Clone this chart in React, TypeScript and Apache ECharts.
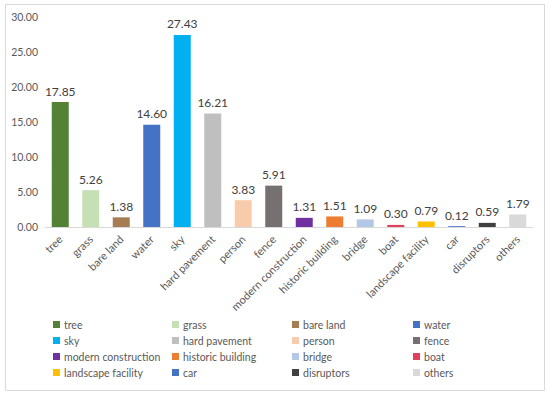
import React, { useEffect, useRef } from "react";
import * as echarts from "echarts";

const categories = [
  "tree", "grass", "bare land", "water", "sky", "hard pavement", "person", "fence",
  "modern construction", "historic building", "bridge", "boat", "landscape facility",
  "car", "disruptors", "others",
];
const values = [17.85, 5.26, 1.38, 14.6, 27.43, 16.21, 3.83, 5.91, 1.31, 1.51, 1.09, 0.3, 0.79, 0.12, 0.59, 1.79];
const colors = [
  "#548235", "#C5E0B4", "#A67C52", "#4472C4", "#00B0F0", "#BFBFBF", "#F8CBAD", "#767171",
  "#7030A0", "#ED7D31", "#B4C7E7", "#E0405A", "#FFC000", "#4472C4", "#404040", "#D9D9D9",
];
const yTicks = [0, 5, 10, 15, 20, 25, 30];
const legendColumns = [
  ["tree", "sky", "modern construction", "landscape facility"],
  ["grass", "hard pavement", "historic building", "car"],
  ["bare land", "person", "bridge", "disruptors"],
  ["water", "fence", "boat", "others"],
];
const legendLeft = [53, 172, 292, 413];

const FONT = "Lato, 'Noto Sans', sans-serif";

export default function App() {
  const ref = useRef<HTMLDivElement>(null);
  useEffect(() => {
    if (!ref.current) return;
    const chart = echarts.init(ref.current, undefined, { renderer: "svg" });
    const series = categories.map((name, i) => ({
      name,
      type: "bar",
      stack: "all",
      barWidth: 17,
      data: categories.map((_, j) => (j === i ? values[i] : "-")),
      itemStyle: { color: colors[i] },
      label: {
        show: true,
        position: "top",
        distance: 5,
        color: "#404040",
        fontSize: 12,
        fontFamily: FONT,
        formatter: (p: any) => Number(p.value).toFixed(2),
      },
    }));
    chart.setOption({
      animation: false,
      textStyle: { fontFamily: FONT },
      graphic: [
        {
          type: "rect",
          shape: { x: 5.5, y: 4.5, width: 539, height: 386 },
          style: { fill: "#fff", stroke: "#D9D9D9", lineWidth: 1 },
          z: -10,
          silent: true,
        },
      ],
      legend: legendColumns.map((col, k) => ({
        data: col,
        orient: "vertical",
        left: legendLeft[k],
        top: 318,
        itemWidth: 7,
        itemHeight: 7,
        itemGap: 3,
        padding: 0,
        icon: "rect",
        selectedMode: false,
        textStyle: { color: "#595959", fontSize: 10.5, fontFamily: FONT, lineHeight: 13, padding: [0, 0, 0, -1] },
      })),
      grid: { left: 45, right: 17, top: 17, bottom: 168, containLabel: false },
      xAxis: {
        type: "category",
        data: categories.concat([]),
        axisLine: { lineStyle: { color: "#D9D9D9" } },
        axisTick: { show: false },
        axisLabel: {
          rotate: 45,
          interval: 0,
          color: "#595959",
          fontSize: 11,
          fontFamily: FONT,
          margin: 10,
        },
      },
      yAxis: {
        type: "value",
        min: yTicks[0],
        max: yTicks[yTicks.length - 1],
        interval: 5,
        splitLine: { show: false },
        axisLine: { show: false },
        axisTick: { show: false },
        axisLabel: {
          color: "#595959",
          fontSize: 10.5,
          fontFamily: FONT,
          margin: 7,
          formatter: (v: number) => v.toFixed(2),
        },
      },
      series,
    });
    return () => chart.dispose();
  }, []);
  return (
    <div
      ref={ref}
      style={{ position: "fixed", left: 0, top: 0, width: 550, height: 395, background: "#fff" }}
    />
  );
}
